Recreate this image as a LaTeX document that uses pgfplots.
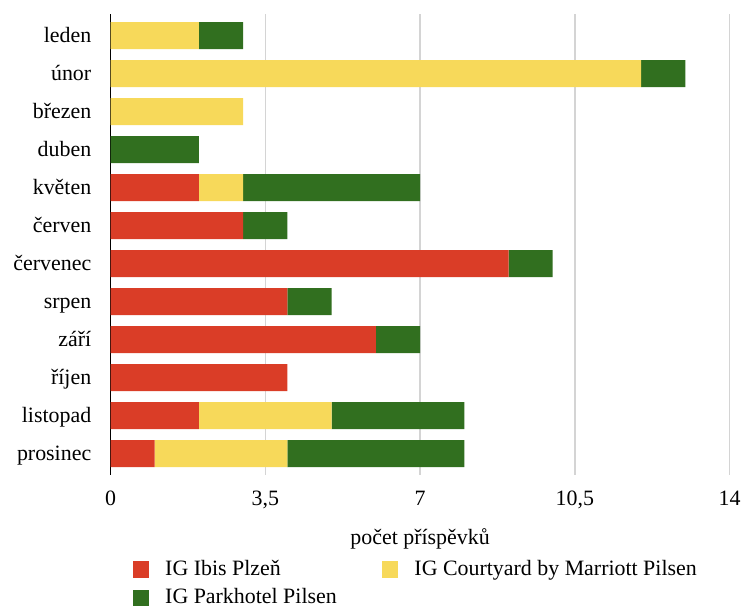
\documentclass[border=0pt]{standalone}
\usepackage{fontspec}
\setmainfont{Liberation Serif}
\usepackage{pgfplots}
\pgfplotsset{compat=1.18}
\definecolor{cIbis}{HTML}{DA3D27}
\definecolor{cCourt}{HTML}{F7D95A}
\definecolor{cPark}{HTML}{316F1F}
\definecolor{cGrid}{HTML}{D4D4D4}
\begin{document}
\begin{tikzpicture}[font=\fontsize{16.5}{19.8}\selectfont]
\begin{axis}[
  scale only axis,
  width=466.3pt, height=347pt,
  xbar stacked,
  bar width=20.3pt,
  xmin=0, xmax=14,
  ymin=-0.563, ymax=11.563,
  y dir=reverse,
  axis lines*=left,
  x axis line style={draw=none},
  y axis line style={black, line width=1pt},
  major tick length=0pt,
  xtick={0,3.5,7,10.5,14},
  xmajorgrids,
  grid style={cGrid, line width=1pt},
  /pgf/number format/use comma,
  /pgf/number format/assume math mode=true,
  xticklabel style={anchor=base, yshift=-23pt},
  ytick={0,1,2,3,4,5,6,7,8,9,10,11},
  yticklabels={leden,únor,březen,duben,květen,červen,červenec,srpen,září,říjen,listopad,prosinec},
  yticklabel style={anchor=base east, xshift=-11pt, yshift=-4.9pt},
  xlabel={počet příspěvků},
  xlabel style={at={(axis description cs:0.5,0)}, anchor=center, yshift=-48pt},
  legend cell align=left,
  legend columns=2,
  legend image code/.code={\fill[#1,draw=none] (0pt,-6.2pt) rectangle (12.4pt,6.2pt); \path (22.5pt,0pt);},
  legend style={at={(axis description cs:0,0)}, anchor=north west, xshift=16.5pt, yshift=-62pt,
    draw=none, inner sep=0pt, row sep=3.5pt,
    /tikz/column 2/.style={column sep=32pt},
    nodes={inner sep=2pt, text depth=0.25em}},
]
\addplot[fill=cIbis, draw=none] coordinates {(0,0) (0,1) (0,2) (0,3) (2,4) (3,5) (9,6) (4,7) (6,8) (4,9) (2,10) (1,11)};
\addplot[fill=cCourt, draw=none] coordinates {(2,0) (12,1) (3,2) (0,3) (1,4) (0,5) (0,6) (0,7) (0,8) (0,9) (3,10) (3,11)};
\addplot[fill=cPark, draw=none] coordinates {(1,0) (1,1) (0,2) (2,3) (4,4) (1,5) (1,6) (1,7) (1,8) (0,9) (3,10) (4,11)};
\legend{IG Ibis Plzeň, IG Courtyard by Marriott Pilsen, IG Parkhotel Pilsen}
\end{axis}
\path (-83.25pt,-97.5pt) rectangle (475.5pt,357.75pt);
\end{tikzpicture}
\end{document}
